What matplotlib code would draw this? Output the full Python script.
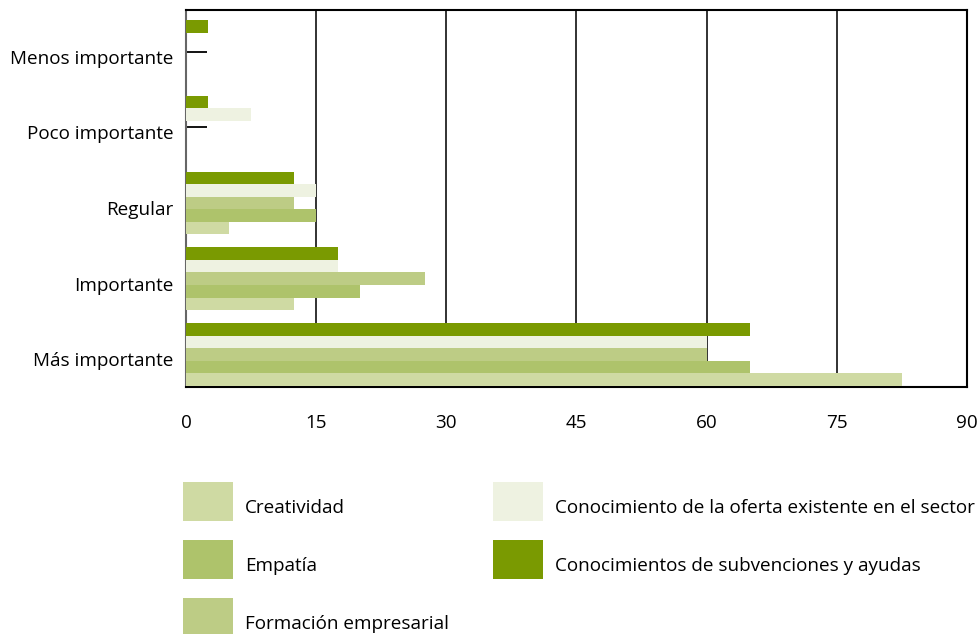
import matplotlib
matplotlib.use("Agg")
import matplotlib.pyplot as plt
import matplotlib.transforms as mtransforms
import numpy as np

plt.rcParams['font.family'] = ['Open Sans', 'DejaVu Sans']

categorias = ["Más importante", "Importante", "Regular", "Poco importante", "Menos importante"]
series = ["Creatividad", "Empatía", "Formación empresarial",
          "Conocimiento de la oferta existente en el sector",
          "Conocimientos de subvenciones y ayudas"]
creatividad = [82.5, 12.5, 5, 0, 0]
empatia = [65, 20, 15, 0, 0]
formacion = [60, 27.5, 12.5, 0, 0]
oferta = [60, 17.5, 15, 7.5, 0]
subvenciones = [65, 17.5, 12.5, 2.5, 2.5]
colores = ["#cfdaa3", "#aec36b", "#bdcc85", "#eef2e1", "#7a9a01"]
ticks_x = [0, 15, 30, 45, 60, 75, 90]

valores = [creatividad, empatia, formacion, oferta, subvenciones]

fs = 13.6
fig = plt.figure(figsize=(9.79, 6.34), dpi=100)
ax = fig.add_axes([186/979, 1 - 387/634, (967-186)/979, (387-10)/634])

y = np.arange(len(categorias))
h = 0.166
barras = []
for k, (nombre, vals, col) in enumerate(zip(series, valores, colores)):
    b = ax.barh(y + (k - 2) * h, vals, height=h, color=col, label=nombre, zorder=3)
    barras.append(b)

ax.set_xlim(0, 90)
ax.set_ylim(-0.43, 4.55)
ax.set_xticks(ticks_x)
ax.set_yticks(y)
ax.set_yticklabels(categorias)
ax.grid(axis="x", color="#222222", linewidth=1.3, zorder=0)
ax.tick_params(axis="y", direction="in", length=15, width=1.3, color="black", pad=9, labelsize=fs)
ax.tick_params(axis="x", length=0, pad=19.5, labelsize=fs)

off = mtransforms.ScaledTranslation(0, -5/100, fig.dpi_scale_trans)
for lbl in ax.get_yticklabels():
    lbl.set_transform(lbl.get_transform() + off)

for s in ["top", "bottom", "right"]:
    ax.spines[s].set_color("black")
    ax.spines[s].set_linewidth(1.5)
ax.spines["left"].set_color("#666666")
ax.spines["left"].set_linewidth(1.5)

opts = dict(loc="upper left", frameon=False, fontsize=fs, handlelength=2.65,
            handleheight=2.8, labelspacing=1.0, handletextpad=0.64,
            borderpad=0, borderaxespad=0)
leg1 = fig.legend(handles=barras[:3], bbox_to_anchor=(183/979, 1 - 482/634), **opts)
leg2 = fig.legend(handles=barras[3:], bbox_to_anchor=(493/979, 1 - 482/634), **opts)

# el texto de la leyenda va un poco más abajo que el centro del cuadro
off_leg = mtransforms.ScaledTranslation(0, -6/100, fig.dpi_scale_trans)
fig.canvas.draw()
for leg in (leg1, leg2):
    for t in leg.get_texts():
        t.set_transform(t.get_transform() + off_leg)

fig.savefig("out.png", dpi=100)
